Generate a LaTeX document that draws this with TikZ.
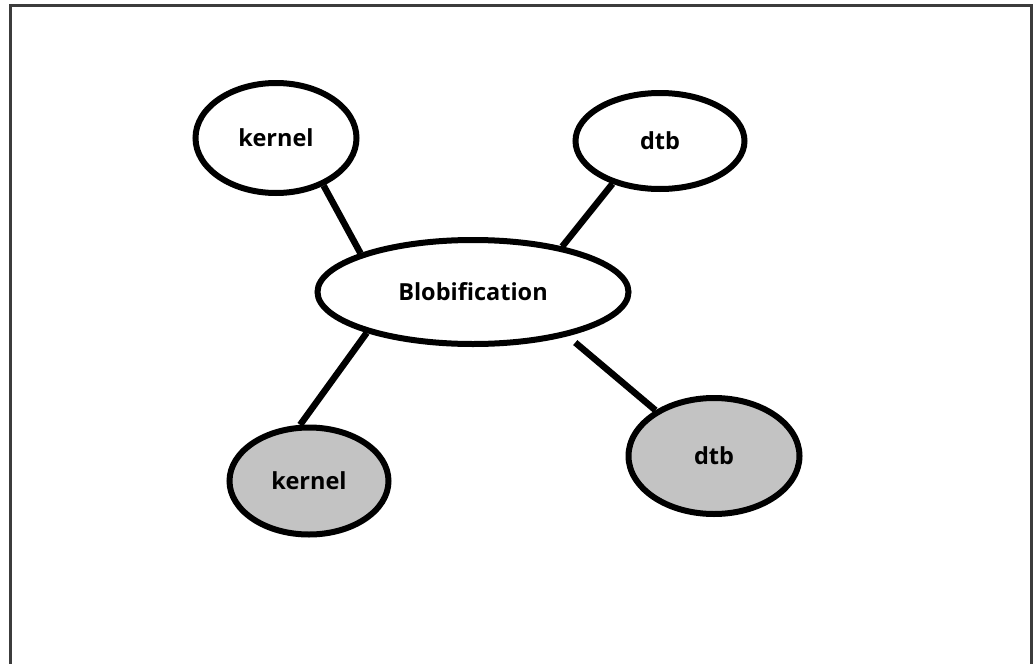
\documentclass[tikz,border=0pt]{standalone}
\usepackage{fontspec}
\setmainfont{Open Sans}
\usetikzlibrary{shapes.geometric}
\definecolor{framecol}{HTML}{3C3C3C}
\definecolor{blobgray}{HTML}{C3C3C3}
\tikzset{
  blob/.style={ellipse, draw=black, line width=6pt, fill=white, inner sep=0pt,
    font=\fontsize{23.5}{27}\selectfont\bfseries},
  shaded/.style={blob, fill=blobgray},
  link/.style={draw=black, line width=6.5pt}
}
\begin{document}
\begin{tikzpicture}[x=1pt,y=-1pt]
\useasboundingbox (0,0) rectangle (1034,664);
\fill[white] (0,0) rectangle (1034,664);
\draw[framecol, line width=3pt] (10.5,664) -- (10.5,5.5) -- (1031.5,5.5) -- (1031.5,664);
\node[blob, minimum width=161pt, minimum height=110pt] (k1) at (276,138) {kernel};
\node[blob, minimum width=169pt, minimum height=96pt] (d1) at (660,141) {dtb};
\node[blob, minimum width=311pt, minimum height=104pt] (b) at (473,292) {Blobification};
\node[shaded, minimum width=159pt, minimum height=107pt] (k2) at (309,481) {kernel};
\node[shaded, minimum width=171pt, minimum height=116pt] (d2) at (714,456) {dtb};
\draw[link] (k1.-45) -- (b.161);
\draw[link] (d1.222) -- (b.27);
\draw[link] (b.201) -- (k2.99);
\draw[link, shorten <=10pt] (b.-25) -- (d2.142);
\end{tikzpicture}
\end{document}
